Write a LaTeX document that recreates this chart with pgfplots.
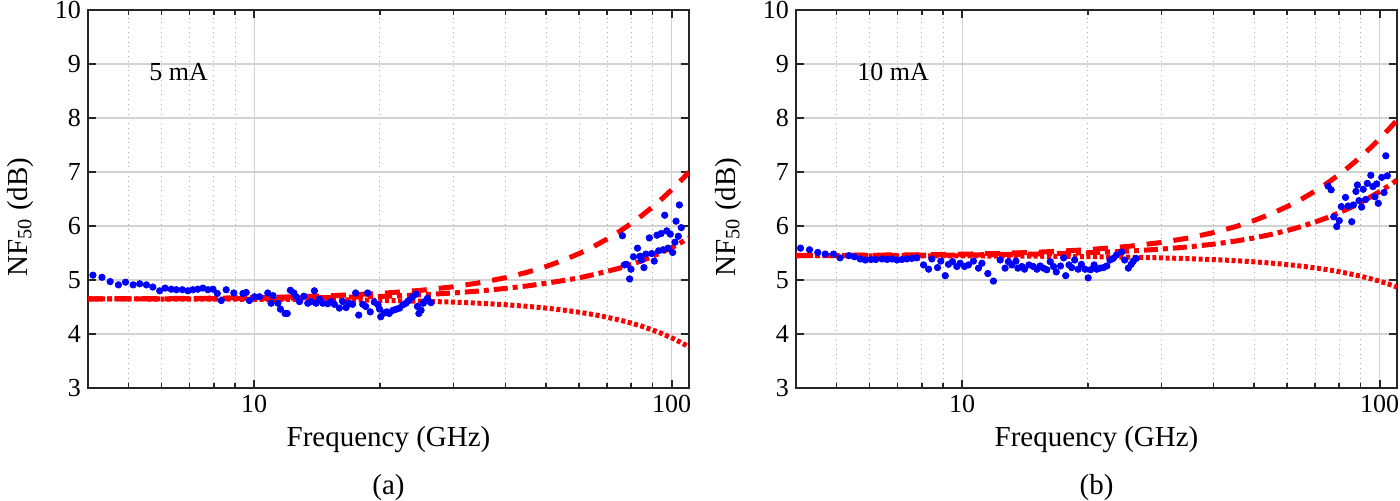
\documentclass[border=0pt]{standalone}
\usepackage{fontspec}
\setmainfont{Liberation Serif}
\usepackage{pgfplots}
\pgfplotsset{compat=1.18}

\pgfplotstableread{
f v
4.11 5.09
4.32 5.05
4.52 4.97
4.73 4.91
4.92 4.96
5.13 4.91
5.32 4.93
5.52 4.91
5.72 4.87
5.94 4.80
6.12 4.85
6.33 4.83
6.51 4.82
6.73 4.82
6.94 4.80
7.13 4.82
7.33 4.83
7.54 4.85
7.75 4.82
7.97 4.83
8.16 4.75
8.34 4.62
8.57 4.82
8.94 4.76
9.40 4.75
9.57 4.77
9.74 4.62
10.02 4.69
10.3 4.69
10.78 4.76
10.98 4.57
11.1 4.71
11.4 4.57
11.56 4.46
11.86 4.38
12.0 4.38
12.21 4.81
12.45 4.76
12.6 4.69
12.84 4.60
13.15 4.70
13.44 4.57
13.69 4.60
13.94 4.80
14.07 4.57
14.33 4.65
14.6 4.57
15.0 4.56
15.3 4.60
15.57 4.55
16.0 4.48
16.3 4.60
16.6 4.49
16.9 4.57
17.2 4.55
17.5 4.76
17.8 4.35
18.2 4.55
18.5 4.51
18.7 4.76
18.97 4.41
19.4 4.59
19.8 4.54
19.97 4.46
20.1 4.32
20.5 4.39
20.8 4.41
21.06 4.38
21.5 4.44
21.9 4.46
22.3 4.48
22.7 4.54
23.1 4.57
23.5 4.62
23.96 4.69
24.4 4.74
24.6 4.51
24.8 4.38
25.1 4.44
25.4 4.57
25.6 4.60
26.0 4.66
26.5 4.58
76.2 5.82
77.0 5.28
77.9 5.29
79.3 5.02
79.9 5.20
81.0 5.43
82.8 5.59
84.0 5.44
84.6 5.37
85.8 5.23
86.7 5.48
88.4 5.78
89.6 5.49
90.8 5.35
92.2 5.83
93.0 5.54
94.3 5.86
95.4 5.56
96.2 6.20
97.3 5.91
98.0 5.59
99.2 5.85
100.5 5.51
101.8 5.70
102.4 6.09
103.7 5.81
104.3 6.39
105.4 5.97
}\dataA

\pgfplotstableread{
f dash dashdot dot
4 4.652 4.651 4.650
6 4.656 4.652 4.648
8 4.663 4.656 4.645
10 4.675 4.660 4.643
12 4.686 4.665 4.640
15 4.707 4.673 4.635
20 4.751 4.695 4.623
25 4.808 4.725 4.608
30 4.875 4.760 4.590
35 4.954 4.800 4.568
40 5.043 4.845 4.542
45 5.142 4.890 4.513
50 5.250 4.940 4.480
55 5.366 4.990 4.444
60 5.490 5.040 4.404
65 5.621 5.100 4.360
70 5.758 5.160 4.311
75 5.900 5.220 4.259
80 6.047 5.290 4.202
85 6.199 5.360 4.141
90 6.354 5.440 4.075
95 6.512 5.520 4.004
100 6.673 5.600 3.928
105 6.835 5.690 3.847
110 7.000 5.780 3.760
}\modelA

\pgfplotstableread{
f v
4.10 5.59
4.31 5.56
4.51 5.51
4.70 5.48
4.92 5.48
5.10 5.41
5.35 5.45
5.52 5.43
5.70 5.39
5.86 5.37
6.05 5.38
6.21 5.38
6.43 5.39
6.61 5.38
6.79 5.39
6.98 5.37
7.17 5.38
7.37 5.39
7.58 5.40
7.79 5.41
8.08 5.28
8.31 5.20
8.46 5.39
8.73 5.23
8.89 5.35
9.11 5.08
9.27 5.29
9.48 5.34
9.71 5.25
9.89 5.31
10.13 5.25
10.35 5.28
10.64 5.35
10.94 5.22
11.15 5.31
11.52 5.12
11.88 4.98
12.33 5.37
12.67 5.22
12.9 5.34
13.15 5.28
13.45 5.35
13.6 5.22
13.9 5.25
14.1 5.20
14.45 5.28
14.8 5.25
15.1 5.20
15.37 5.26
15.65 5.22
15.95 5.19
16.25 5.34
16.55 5.25
16.8 5.15
17.2 5.26
17.5 5.41
17.7 5.08
18.03 5.28
18.3 5.23
18.6 5.37
18.96 5.20
19.3 5.29
19.7 5.20
20.03 5.04
20.3 5.19
20.7 5.28
21.0 5.20
21.4 5.22
21.8 5.23
22.2 5.26
22.6 5.37
23.0 5.40
23.4 5.46
24.1 5.52
24.5 5.37
25.0 5.22
25.4 5.29
25.7 5.35
26.1 5.40
75.2 6.74
76.5 6.67
77.6 6.17
78.9 5.99
80.0 6.10
80.9 6.36
82.8 6.53
84.0 6.37
85.7 6.08
86.5 6.39
87.7 6.64
88.4 6.76
89.2 6.47
90.5 6.35
91.3 6.68
92.5 6.49
93.4 6.79
95.2 6.94
96.3 6.73
97.4 6.54
98.3 6.78
99.2 6.42
101.1 6.90
102.4 6.62
103.4 7.30
104.3 6.93
}\dataB

\pgfplotstableread{
f dash dashdot dot
4 5.455 5.452 5.450
6 5.461 5.455 5.449
8 5.468 5.459 5.448
10 5.478 5.464 5.446
12 5.491 5.471 5.444
15 5.513 5.481 5.441
20 5.561 5.505 5.433
25 5.623 5.535 5.423
30 5.696 5.572 5.410
35 5.781 5.615 5.395
40 5.878 5.664 5.378
45 5.985 5.719 5.359
50 6.101 5.779 5.337
55 6.227 5.845 5.313
60 6.360 5.916 5.286
65 6.499 5.992 5.257
70 6.646 6.073 5.225
75 6.798 6.158 5.190
80 6.954 6.246 5.153
85 7.115 6.339 5.113
90 7.279 6.435 5.071
95 7.447 6.537 5.025
100 7.616 6.637 4.977
105 7.788 6.743 4.925
110 7.960 6.850 4.870
}\modelB

\begin{document}
\begin{tikzpicture}
\useasboundingbox (0,0) rectangle (700pt,250pt);
\begin{axis}[
  at={(44pt,56pt)}, anchor=south west,
  scale only axis, width=300.5pt, height=189pt,
  xmode=log, xmin=4, xmax=110, ymin=3, ymax=10,
  xtick={10,100}, xticklabels={10,100},
  minor xtick={4,5,6,7,8,9,20,30,40,50,60,70,80,90},
  ytick={3,4,5,6,7,8,9,10}, yticklabels={3,4,5,6,7,8,9,10},
  tick align=inside, tick pos=both,
  major tick length=4pt, minor tick length=2.5pt,
  xmajorgrids, xminorgrids, ymajorgrids,
  major grid style={gray!35, line width=0.6pt},
  minor grid style={gray!65, dotted, line width=0.5pt},
  axis line style={black!85, line width=1pt},
  tick style={black!85, line width=0.8pt},
  tick label style={font=\fontsize{13}{15}\selectfont},
  label style={font=\fontsize{14.5}{17}\selectfont},
  xlabel={Frequency (GHz)},
  ylabel={NF\textsubscript{50} (dB)},
  xlabel style={at={(axis description cs:0.5,0)}, anchor=center, yshift=-26pt},
  ylabel style={at={(axis description cs:-0.113,0.452)}, anchor=center},
]
  \addplot[only marks, mark=*, mark size=1.6pt, blue] table[x=f,y=v] {\dataA};
  \addplot[no marks, red, line width=2.5pt, dash pattern=on 2pt off 1.3pt] table[x=f,y=dot] {\modelA};
  \addplot[no marks, red, line width=2.5pt, dash pattern=on 7pt off 2.5pt on 2.5pt off 2.5pt] table[x=f,y=dashdot] {\modelA};
  \addplot[no marks, red, line width=2.5pt, dash pattern=on 7.5pt off 6pt] table[x=f,y=dash] {\modelA};
  \node[anchor=west, inner sep=0pt, font=\fontsize{13}{15}\selectfont] at (axis cs:5.6,8.85) {5 mA};
\end{axis}
\begin{axis}[
  at={(398pt,56pt)}, anchor=south west,
  scale only axis, width=300.5pt, height=189pt,
  xmode=log, xmin=4, xmax=110, ymin=3, ymax=10,
  xtick={10,100}, xticklabels={10,100},
  minor xtick={4,5,6,7,8,9,20,30,40,50,60,70,80,90},
  ytick={3,4,5,6,7,8,9,10}, yticklabels={3,4,5,6,7,8,9,10},
  tick align=inside, tick pos=both,
  major tick length=4pt, minor tick length=2.5pt,
  xmajorgrids, xminorgrids, ymajorgrids,
  major grid style={gray!35, line width=0.6pt},
  minor grid style={gray!65, dotted, line width=0.5pt},
  axis line style={black!85, line width=1pt},
  tick style={black!85, line width=0.8pt},
  tick label style={font=\fontsize{13}{15}\selectfont},
  label style={font=\fontsize{14.5}{17}\selectfont},
  xlabel={Frequency (GHz)},
  ylabel={NF\textsubscript{50} (dB)},
  xlabel style={at={(axis description cs:0.5,0)}, anchor=center, yshift=-26pt},
  ylabel style={at={(axis description cs:-0.113,0.452)}, anchor=center},
]
  \addplot[only marks, mark=*, mark size=1.6pt, blue] table[x=f,y=v] {\dataB};
  \addplot[no marks, red, line width=2.5pt, dash pattern=on 2pt off 1.3pt] table[x=f,y=dot] {\modelB};
  \addplot[no marks, red, line width=2.5pt, dash pattern=on 7pt off 2.5pt on 2.5pt off 2.5pt] table[x=f,y=dashdot] {\modelB};
  \addplot[no marks, red, line width=2.5pt, dash pattern=on 7.5pt off 6pt] table[x=f,y=dash] {\modelB};
  \node[anchor=west, inner sep=0pt, font=\fontsize{13}{15}\selectfont] at (axis cs:5.6,8.85) {10 mA};
\end{axis}
\node[font=\fontsize{14.5}{17}\selectfont] at (194.25pt,6pt) {(a)};
\node[font=\fontsize{14.5}{17}\selectfont] at (548.25pt,6pt) {(b)};
\end{tikzpicture}
\end{document}
